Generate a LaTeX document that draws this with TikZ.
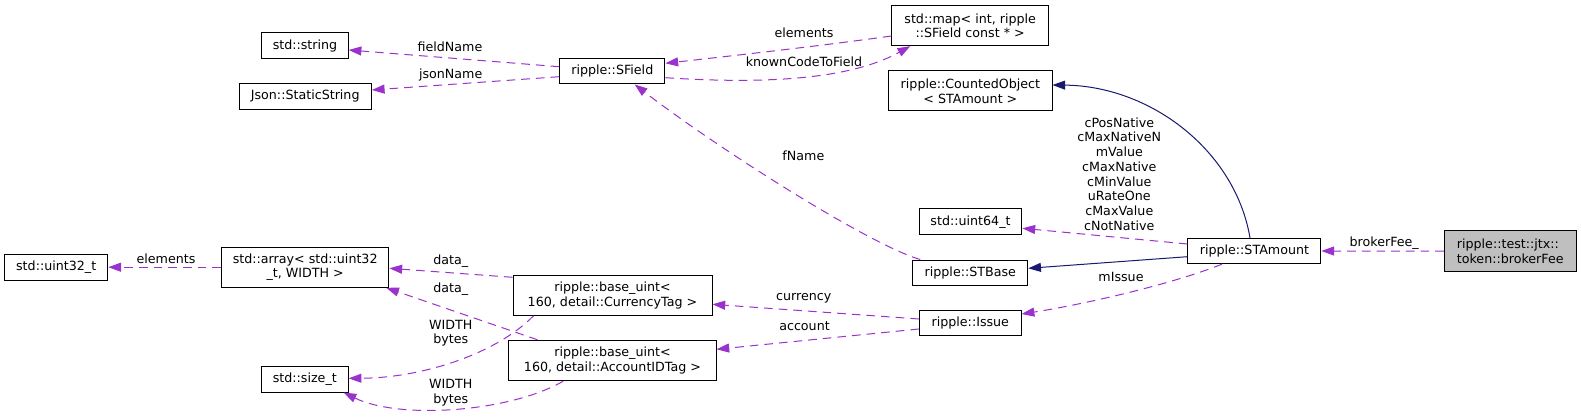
\documentclass[tikz,border=0pt]{standalone}
\usepackage{fontspec}
\setmainfont{DejaVu Sans}
\usetikzlibrary{arrows.meta,calc}
\definecolor{depc}{HTML}{9A32CD}
\definecolor{inhc}{HTML}{191970}
\definecolor{grayfill}{HTML}{BFBFBF}
\begin{document}
\begin{tikzpicture}[x=0.75pt,y=-0.75pt,
  font=\fontsize{9.5}{11.07}\selectfont,
  box/.style={draw=black, line width=0.75pt, inner sep=0pt, align=center, fill=white},
  lbl/.style={inner sep=0pt, align=center},
  dep/.style={draw=depc, dash pattern=on 6.5pt off 4.5pt, line width=0.75pt,
    -{Triangle[length=9.5pt,width=6.75pt,fill=depc]}},
  inh/.style={draw=inhc, line width=0.75pt,
    -{Triangle[length=9.5pt,width=6.75pt,fill=inhc]}}]
\useasboundingbox (0,0) rectangle (1581,417);
\fill[white] (0,0) rectangle (1581,417);

% nodes
\node[box, minimum width=64.8pt, minimum height=19.3pt] (strg) at (305,45.8) {std::string};
\node[box, minimum width=99.3pt, minimum height=19.2pt] (json) at (305.2,96.5) {Json::StaticString};
\node[box, minimum width=79pt, minimum height=18.75pt] (sfield) at (612.3,71.5) {ripple::SField};
\node[box, minimum width=117.5pt, minimum height=30pt] (map) at (970.2,25.7) {std::map< int, ripple\\::SField const * >};
\node[box, minimum width=122.4pt, minimum height=30pt] (counted) at (970.4,91) {ripple::CountedObject\\< STAmount >};
\node[box, minimum width=77.2pt, minimum height=19.3pt] (u64) at (970.5,221.8) {std::uint64\_t};
\node[box, minimum width=86.25pt, minimum height=19pt] (stbase) at (970.3,272.7) {ripple::STBase};
\node[box, minimum width=76.3pt, minimum height=19pt] (issue) at (970.3,323.3) {ripple::Issue};
\node[box, minimum width=149.25pt, minimum height=30.2pt] (cur) at (612.5,295.2) {ripple::base\_uint<\\ 160, detail::CurrencyTag >};
\node[box, minimum width=155.3pt, minimum height=30.3pt] (acc) at (612.5,360.5) {ripple::base\_uint<\\ 160, detail::AccountIDTag >};
\node[box, minimum width=77.5pt, minimum height=19.3pt] (u32) at (56.2,267.2) {std::uint32\_t};
\node[box, minimum width=125.6pt, minimum height=30.2pt] (arr) at (305.2,267.2) {std::array< std::uint32\\\_t, WIDTH >};
\node[box, minimum width=65.1pt, minimum height=19.3pt] (sizet) at (304.8,379.2) {std::size\_t};
\node[box, minimum width=99.75pt, minimum height=19pt] (stamt) at (1254.4,251) {ripple::STAmount};
\node[box, fill=grayfill, minimum width=98.8pt, minimum height=30.75pt, align=left, text width=80pt] (broker) at (1510.2,251.2) {ripple::test::jtx::\\token::brokerFee};

% edges
\draw[dep] ($(sfield.west)+(0,-4.8)$) -- ($(strg.east)+(0,4.2)$);
\draw[dep] ($(sfield.west)+(0,5.2)$) -- ($(json.east)+(0,-6.5)$);
\draw[dep] ($(map.west)+(0,10.3)$) .. controls (820,46) and (730,56) .. ($(sfield.east)+(0,-8.2)$);
\draw[dep] ($(sfield.east)+(0,6.2)$) .. controls (790,86) and (860,74) .. ($(map.south)+(-60,0)$);
\draw[dep] ($(stbase.north)+(-50,0)$) .. controls (870,245) and (720,150) .. ($(sfield.south)+(22.4,0)$);
\draw[inh] ($(stamt.north)+(-4.4,0)$) .. controls (1235,150) and (1150,86) .. ($(counted.east)+(0,-6)$);
\draw[inh] ($(stamt.west)+(0,5.7)$) -- ($(stbase.east)+(0,-4.4)$);
\draw[dep] ($(stamt.west)+(0,-7)$) -- ($(u64.east)+(0,6.5)$);
\draw[dep] ($(stamt.south)+(-32.4,0)$) .. controls (1170,285) and (1080,305) .. ($(issue.east)+(0,-9.3)$);
\draw[dep] (broker.west) -- (stamt.east);
\draw[dep] ($(issue.west)+(0,-4.3)$) -- ($(cur.east)+(0,9.1)$);
\draw[dep] ($(issue.west)+(0,5.7)$) -- ($(acc.east)+(0,-11.2)$);
\draw[dep] ($(cur.west)+(0,-17.9)$) -- ($(arr.east)+(0,1.1)$);
\draw[dep] ($(acc.north)+(-75,0)$) -- ($(arr.south east)+(-3.2,0)$);
\draw[dep] ($(cur.south)+(-79,0)$) .. controls (495,355) and (420,378) .. ($(sizet.east)+(0,-0.9)$);
\draw[dep] ($(acc.south)+(-49.3,0)$) .. controls (510,412) and (400,420) .. ($(sizet.south east)+(-5,0)$);
\draw[dep] (arr.west) -- (u32.east);

% labels
\node[lbl] (l1) at (450,46.7) {fieldName};
\node[lbl] (l2) at (450.7,75) {jsonName};
\node[lbl] (l3) at (804,32.3) {elements};
\node[lbl] (l4) at (804,61.7) {knownCodeToField};
\node[lbl] (l5) at (803.4,156) {fName};
\node[lbl] (l6) at (1119.3,174) {cPosNative\\cMaxNativeN\\mValue\\cMaxNative\\cMinValue\\uRateOne\\cMaxValue\\cNotNative};
\node[lbl] (l7) at (1121,276.7) {mIssue};
\node[lbl] (l8) at (1384.2,242.7) {brokerFee\_};
\node[lbl] (l9) at (803.7,298.3) {currency};
\node[lbl] (l10) at (804.5,325.7) {account};
\node[lbl] (l11) at (450.7,261) {data\_};
\node[lbl] (l12) at (450.7,289) {data\_};
\node[lbl] (l13) at (450.7,333.2) {WIDTH\\bytes};
\node[lbl] (l14) at (450.7,393) {WIDTH\\bytes};
\node[lbl] (l15) at (166,259) {elements};
\end{tikzpicture}
\end{document}
